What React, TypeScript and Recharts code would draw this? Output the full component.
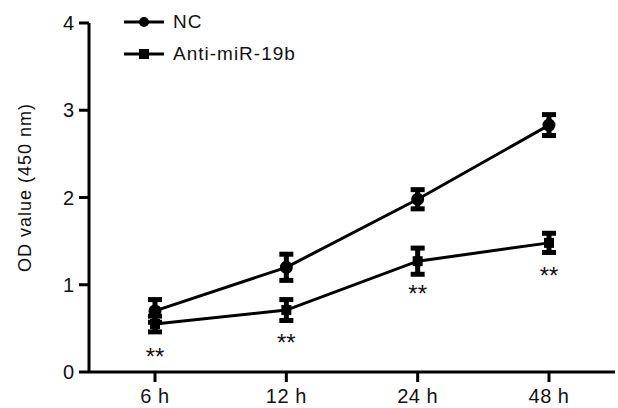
import React from 'react';
import { LineChart, Line, XAxis, YAxis, ErrorBar, LabelList, Legend } from 'recharts';

const timePoints = ['6 h', '12 h', '24 h', '48 h'];
const ncMean = [0.7, 1.2, 1.98, 2.83];
const ncSd = [0.13, 0.15, 0.11, 0.12];
const antiMean = [0.55, 0.71, 1.27, 1.48];
const antiSd = [0.09, 0.12, 0.15, 0.11];
const significance = ['**', '**', '**', '**'];
const yTicks = [0, 1, 2, 3, 4];

const data = timePoints.map((t, i) => ({
  time: t,
  nc: ncMean[i],
  ncErr: ncSd[i],
  anti: antiMean[i],
  antiErr: antiSd[i],
  sig: significance[i],
}));

const FONT = '"Liberation Sans", Arial, Helvetica, sans-serif';

const SquareDot = (props: any) => {
  const { cx, cy } = props;
  if (cx == null || cy == null) return null;
  return <rect x={cx - 5} y={cy - 5} width={10} height={10} fill="#000" />;
};

const YLabel = (props: any) => {
  const { viewBox } = props;
  const x = viewBox.x + 25;
  const y = viewBox.y + viewBox.height / 2 - 10;
  return (
    <text x={x} y={y} transform={`rotate(-90, ${x}, ${y})`} textAnchor="middle" dominantBaseline="central"
      fontSize={18} letterSpacing={1} fontFamily={FONT} fill="#111">
      OD value (450 nm)
    </text>
  );
};

const StarLabel = (props: any) => {
  const { x, y, value } = props;
  return (
    <text x={x} y={y + 41} textAnchor="middle" fontSize={24} fontFamily={FONT} fill="#111">
      {value}
    </text>
  );
};

const LegendContent = () => {
  const rows = [
    { name: 'NC', marker: 'circle' },
    { name: 'Anti-miR-19b', marker: 'square' },
  ];
  return (
    <div style={{ fontFamily: FONT, fontSize: 19, letterSpacing: 1, color: '#111' }}>
      {rows.map((r) => (
        <div key={r.name} style={{ display: 'flex', alignItems: 'center', height: 32 }}>
          <svg width={40} height={14} style={{ marginRight: 9 }}>
            <line x1={0} y1={7} x2={40} y2={7} stroke="#000" strokeWidth={3} />
            {r.marker === 'circle' ? <circle cx={20} cy={7} r={5} fill="#000" /> : <rect x={15} y={2} width={10} height={10} fill="#000" />}
          </svg>
          <span>{r.name}</span>
        </div>
      ))}
    </div>
  );
};

export default function App() {
  return (
    <div style={{ position: 'absolute', left: 0, top: 0, background: '#fff' }}>
      <LineChart width={618} height={408} data={data} margin={{ top: 23, right: 3, left: 0, bottom: 0 }}>
        <XAxis
          dataKey="time"
          padding={{ left: 66, right: 66 }}
          height={36}
          tickSize={10}
          tickMargin={7}
          axisLine={{ stroke: '#000', strokeWidth: 3 }}
          tickLine={{ stroke: '#000', strokeWidth: 3 }}
          tick={{ fill: '#111', fontSize: 20, letterSpacing: 0.5, fontFamily: FONT }}
        />
        <YAxis
          width={89}
          domain={[0, 4]}
          ticks={yTicks}
          tickSize={10}
          tickMargin={5}
          axisLine={{ stroke: '#000', strokeWidth: 3 }}
          tickLine={{ stroke: '#000', strokeWidth: 3 }}
          tick={{ fill: '#111', fontSize: 20, fontFamily: FONT }}
          label={<YLabel />}
        />
        <Legend
          verticalAlign="middle"
          align="center"
          content={<LegendContent />}
          wrapperStyle={{ top: 6, left: 124, width: 'auto' }}
        />
        <Line
          dataKey="nc"
          stroke="#000"
          strokeWidth={3}
          dot={{ r: 5, fill: '#000', stroke: '#000' }}
          isAnimationActive={false}
        >
          <ErrorBar dataKey="ncErr" width={7} strokeWidth={5} stroke="#000" />
        </Line>
        <Line
          dataKey="anti"
          stroke="#000"
          strokeWidth={3}
          dot={<SquareDot />}
          isAnimationActive={false}
        >
          <ErrorBar dataKey="antiErr" width={7} strokeWidth={5} stroke="#000" />
          <LabelList dataKey="sig" content={<StarLabel />} />
        </Line>
      </LineChart>
    </div>
  );
}
